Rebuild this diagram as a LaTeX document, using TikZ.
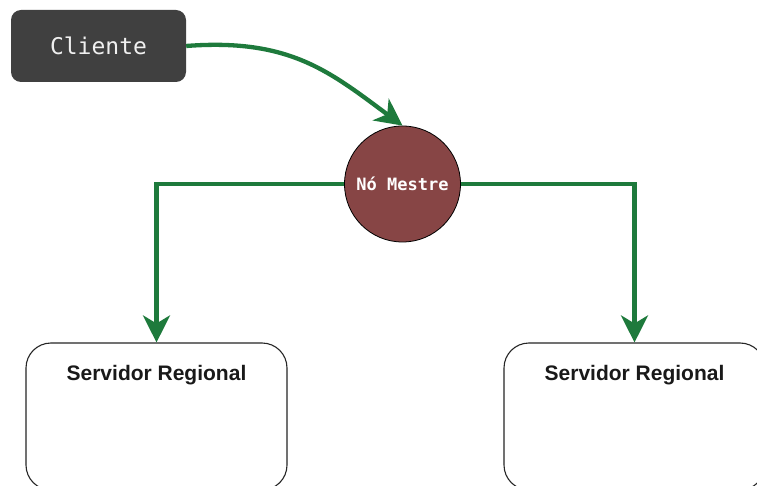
\documentclass[tikz,border=0pt]{standalone}
\usepackage{fontspec}
\newfontfamily\codefont{DejaVu Sans Mono}
\newfontfamily\boxfont{Liberation Sans}
\usetikzlibrary{arrows.meta}
\definecolor{flowgreen}{HTML}{1E7A3C}
\definecolor{clientgray}{HTML}{404040}
\definecolor{masterred}{HTML}{874545}
\definecolor{clienttext}{HTML}{F0F0F0}
\tikzset{
  clientbox/.style={rectangle, rounded corners=10pt, fill=clientgray, draw=none,
    minimum width=175pt, minimum height=72pt, inner sep=0pt,
    font=\codefont\fontsize{23}{26}\selectfont, text=clienttext},
  masternode/.style={circle, fill=masterred, draw=black, line width=0.8pt,
    minimum size=116pt, inner sep=0pt,
    font=\codefont\bfseries\fontsize{17}{20}\selectfont, text=white},
  serverbox/.style={rectangle, rounded corners=25pt, draw=black!85, line width=1.1pt,
    fill=white, minimum width=261pt, minimum height=147pt, inner sep=0pt},
  servertitle/.style={font=\boxfont\bfseries\fontsize{21}{25}\selectfont, text=black!90},
  flow/.style={draw=flowgreen, line width=4.3pt,
    -{Stealth[length=27pt, width=27pt, inset=8pt]}}
}
\begin{document}
\begin{tikzpicture}[x=1pt, y=-1pt]
  \useasboundingbox (0,0) rectangle (757,486);
  \fill[white] (0,0) rectangle (757,486);

  % client and master node
  \node[clientbox] (cliente) at (98.5,46) {Cliente};
  \node[masternode] (mestre) at (402.5,184) {Nó Mestre};

  % regional servers, partly beyond the lower edge
  \node[serverbox] (regA) at (156.5,416.5) {};
  \node[serverbox] (regB) at (634.5,416.5) {};
  \node[servertitle, anchor=base] (regAtitle) at ([yshift=-38pt]regA.north) {Servidor Regional};
  \node[servertitle, anchor=base] (regBtitle) at ([yshift=-38pt]regB.north) {Servidor Regional};

  % request flow
  \draw[flow] (cliente.east) .. controls (290,38) and (330,72) .. (mestre.north);
  \draw[flow] (mestre.west) -| (regA.north);
  \draw[flow] (mestre.east) -| (regB.north);
\end{tikzpicture}
\end{document}
